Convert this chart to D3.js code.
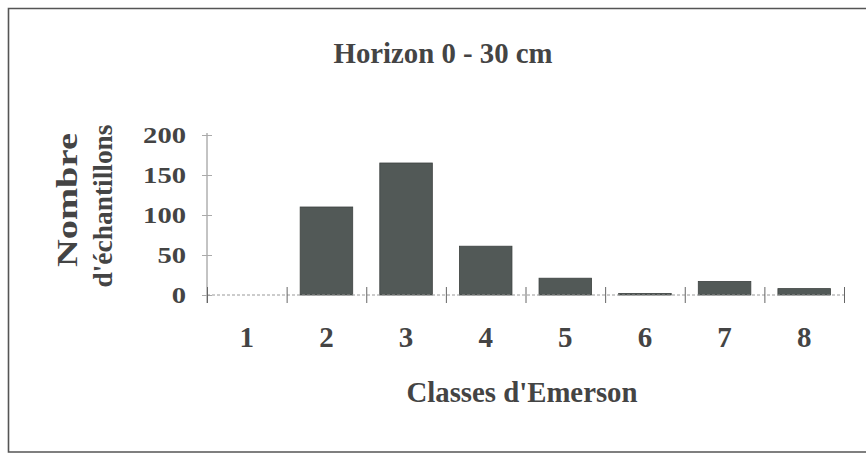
<!DOCTYPE html>
<html>
<head>
<meta charset="utf-8">
<script src="https://cdn.jsdelivr.net/npm/d3@7"></script>
<style>
  body { margin: 0; background: #fff; }
  text { font-family: "Liberation Serif", "Times New Roman", serif; font-weight: bold; fill: #444; }
</style>
</head>
<body>
<div id="chart"></div>
<script>
// data
var classes = ["1", "2", "3", "4", "5", "6", "7", "8"];
var counts = [0, 110, 165, 61, 21, 2, 17, 8];
var yTicks = [0, 50, 100, 150, 200];

var W = 866, H = 455;
var plotL = 207, plotR = 844, plotT = 135, plotB = 295;

var svg = d3.select("#chart")
  .append("svg")
    .attr("width", W)
    .attr("height", H);

// frame of the scanned figure
svg.append("path")
  .attr("d", "M866,8.5 L8.5,8.5 L8.5,452 L866,452")
  .attr("fill", "none")
  .attr("stroke", "#555")
  .attr("stroke-width", 1.6);

var x = d3.scaleBand()
  .domain(classes)
  .range([plotL, plotR])
  .paddingInner(0.34)
  .paddingOuter(0.17);

var y = d3.scaleLinear()
  .domain([0, 200])
  .range([plotB, plotT]);

// title
svg.append("text")
  .attr("x", 443).attr("y", 63)
  .attr("text-anchor", "middle")
  .attr("font-size", 29)
  .attr("textLength", 219).attr("lengthAdjust", "spacingAndGlyphs")
  .text("Horizon 0 - 30 cm");

// y axis
var gy = svg.append("g")
  .attr("transform", "translate(" + plotL + ",0)")
  .call(d3.axisLeft(y).tickValues(yTicks).tickSize(0).tickPadding(21));
gy.select(".domain").attr("stroke", "#888").attr("d", "M0," + (plotT - 2) + "V" + (plotB + 8));
gy.selectAll(".tick line").attr("x1", -5).attr("x2", 5).attr("stroke", "#aaa");
gy.selectAll(".tick text")
  .attr("font-size", 24)
  .attr("font-family", null)
  .attr("textLength", function(d) { return String(d).length * 14.3; })
  .attr("lengthAdjust", "spacingAndGlyphs")
  .style("fill", "#444");

// bars
svg.selectAll("rect.bar")
  .data(counts)
  .enter()
  .append("rect")
    .attr("class", "bar")
    .attr("x", function(d, i) { return x(classes[i]); })
    .attr("y", function(d) { return y(d); })
    .attr("width", x.bandwidth())
    .attr("height", function(d) { return y(0) - y(d); })
    .attr("fill", "#525957")
    .attr("stroke", "#3d4240")
    .attr("stroke-width", 0.8);

// x axis: ticks on the class boundaries
var xb = d3.scaleLinear().domain([0, classes.length]).range([plotL, plotR]);
var gx = svg.append("g")
  .attr("transform", "translate(0," + plotB + ")")
  .call(d3.axisBottom(xb).tickValues(d3.range(0, classes.length + 1)).tickSize(8).tickFormat(""));
gx.select(".domain").attr("stroke", "#999").attr("stroke-dasharray", "3,2").attr("d", "M" + plotL + ",0H" + plotR);
gx.selectAll(".tick line").attr("y1", -8).attr("stroke", "#666");

// class labels
svg.selectAll("text.cls")
  .data(classes)
  .enter()
  .append("text")
    .attr("class", "cls")
    .attr("x", function(d) { return x(d) + x.bandwidth() / 2; })
    .attr("y", 347)
    .attr("text-anchor", "middle")
    .attr("font-size", 29)
    .text(function(d) { return d; });

// axis titles
svg.append("text")
  .attr("x", 522).attr("y", 402)
  .attr("text-anchor", "middle")
  .attr("font-size", 29)
  .attr("textLength", 231).attr("lengthAdjust", "spacingAndGlyphs")
  .text("Classes d'Emerson");

svg.append("text")
  .attr("transform", "translate(77,200) rotate(-90)")
  .attr("text-anchor", "middle")
  .attr("font-size", 30)
  .attr("textLength", 134).attr("lengthAdjust", "spacingAndGlyphs")
  .text("Nombre");

svg.append("text")
  .attr("transform", "translate(112,206) rotate(-90)")
  .attr("text-anchor", "middle")
  .attr("font-size", 28)
  .attr("textLength", 163).attr("lengthAdjust", "spacingAndGlyphs")
  .text("d'échantillons");
</script>
</body>
</html>
